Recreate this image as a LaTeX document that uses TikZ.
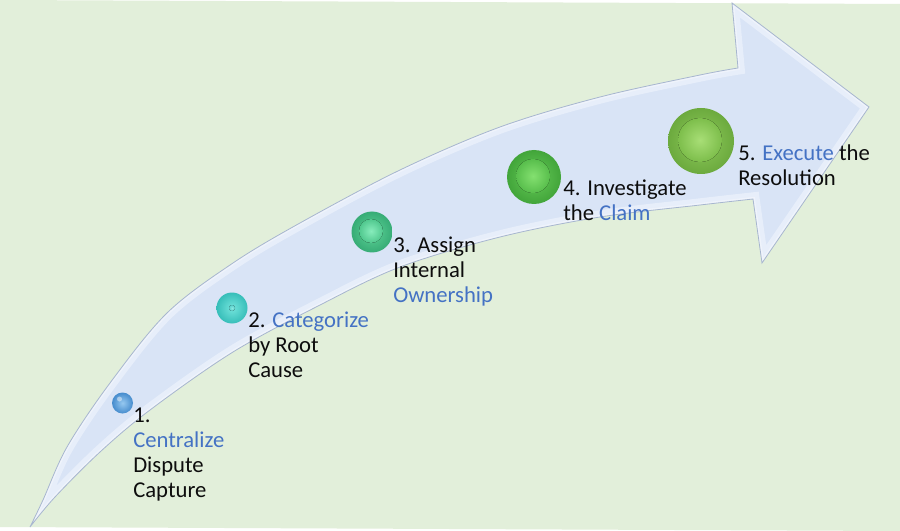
\documentclass[tikz,border=0pt]{standalone}
\usepackage{fontspec}
\setmainfont{Carlito}
\usetikzlibrary{calc}
\definecolor{bg}{HTML}{E2EFDA}
\definecolor{arrfill}{HTML}{D9E4F6}
\definecolor{arrlight}{HTML}{E7EEFA}
\definecolor{arredge}{HTML}{A7B6CE}
\definecolor{accent}{HTML}{4472C4}
\definecolor{txt}{HTML}{0D0D0D}
\tikzset{
  lbl/.style={anchor=base west, align=left, inner sep=0pt, text=txt,
    font=\fontsize{17}{18.75}\selectfont},
  orb/.style={circle, inner sep=0pt, minimum size=#1, shading=radial},
}
\newcommand{\hl}[1]{\textcolor{accent}{#1}}
\begin{document}
\begin{tikzpicture}[x=0.75pt,y=-0.75pt]
\useasboundingbox (0,0) rectangle (900,531);
\fill[white] (0,0) rectangle (900,531);
\fill[bg] (0,0) -- (900,4) -- (900,531) -- (0,527) -- cycle;
% curved arrow
\def\arrowpath{(30,527)
  -- plot[smooth, tension=0.55] coordinates {(30,527) (43,500) (67,447) (110,383) (167,313) (233,263) (300,223) (400,170) (500,127) (600,97) (700,75) (738,68)}
  -- (732,3) -- (869,107) -- (762,263) -- (753,199)
  -- plot[smooth, tension=0.55] coordinates {(753,199) (700,205) (600,217) (500,237) (400,267) (320,305) (233,352) (150,410) (100,452) (55,497) (30,527)}
  -- cycle}
\fill[arrfill] \arrowpath;
\begin{scope}
  \clip \arrowpath;
  \draw[arrlight, line width=10pt, line join=miter] \arrowpath;
  \draw[white, opacity=0.35, line width=3pt] \arrowpath;
\end{scope}
\draw[arredge, line width=0.6pt, line join=miter] \arrowpath;
% orbs
\node[orb=15.75pt, inner color={rgb,255:red,150;green,200;blue,240}, outer color={rgb,255:red,70;green,140;blue,205}] (s1) at (122.5,403) {};
\fill[white, opacity=0.45] ($(s1)+(-3,-4)$) circle (2.5);
\node[orb=23.25pt, inner color={rgb,255:red,115;green,228;blue,220}, outer color={rgb,255:red,55;green,190;blue,185}] (s2) at (232,308) {};
\fill[inner color={rgb,255:red,140;green,232;blue,225}, outer color={rgb,255:red,90;green,210;blue,205}] (s2) circle (3);
\node[orb=30.75pt, inner color={rgb,255:red,95;green,212;blue,152}, outer color={rgb,255:red,55;green,172;blue,118}] (s3) at (372,232) {};
\fill[inner color={rgb,255:red,135;green,236;blue,188}, outer color={rgb,255:red,80;green,200;blue,142}] ($(s3)+(-1,-1)$) circle (12);
\node[orb=40.5pt, inner color={rgb,255:red,102;green,202;blue,88}, outer color={rgb,255:red,66;green,165;blue,58}] (s4) at (534,177) {};
\fill[inner color={rgb,255:red,132;green,224;blue,112}, outer color={rgb,255:red,88;green,190;blue,76}] ($(s4)+(-1,-1)$) circle (17);
\node[orb=49.5pt, inner color={rgb,255:red,142;green,202;blue,92}, outer color={rgb,255:red,108;green,170;blue,62}] (s5) at (701,141) {};
\fill[inner color={rgb,255:red,168;green,222;blue,118}, outer color={rgb,255:red,125;green,190;blue,75}] ($(s5)+(-1,-1)$) circle (22);
% labels (anchored at the baseline of their last line)
\node[lbl] (l1) at (133,497) {1.\\\hl{Centralize}\\Dispute\\Capture};
\node[lbl] (l2) at (248,377) {2. \hl{Categorize}\\by Root\\Cause};
\node[lbl] (l3) at (393,302) {3. Assign\\Internal\\\hl{Ownership}};
\node[lbl] (l4) at (563,220) {4. Investigate\\the \hl{Claim}};
\node[lbl] (l5) at (738,186) {5. \hl{Execute} the\\Resolution};
\end{tikzpicture}
\end{document}
